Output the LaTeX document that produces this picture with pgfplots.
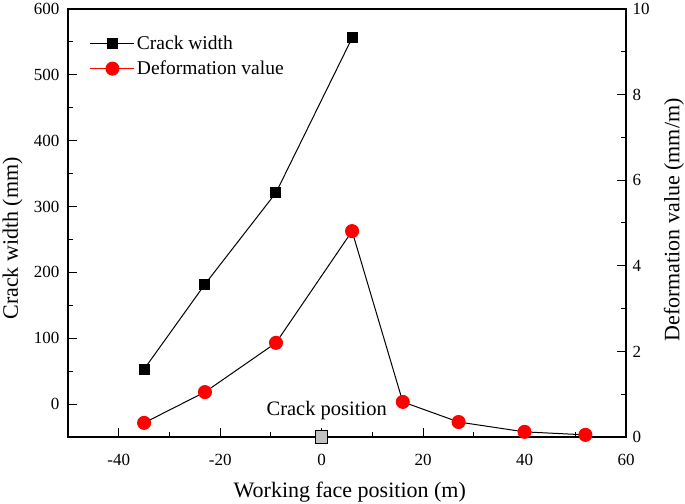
\documentclass[border=0pt]{standalone}
\usepackage{fontspec}
\setmainfont{Liberation Serif}
\usepackage{pgfplots}
\pgfplotsset{compat=1.18}
\definecolor{mkgray}{RGB}{192,192,192}
\begin{document}
\begin{tikzpicture}
\path[use as bounding box] (-68bp,-67bp) rectangle (617bp,437bp);
\begin{axis}[
  at={(0bp,0bp)}, anchor=south west,
  scale only axis, width=558bp, height=428bp,
  xmin=-50, xmax=60, ymin=-50, ymax=600,
  xtick={-40,-20,...,60}, ytick={0,100,...,600},
  minor x tick num=1, minor y tick num=1,
  tick align=inside, xtick pos=bottom, ytick pos=left,
  major tick length=9bp, minor tick length=5bp,
  axis line style={line width=1.3bp},
  every tick/.style={line width=1bp, black},
  clip=false,
  /pgf/number format/assume math mode=true,
  tick label style={font=\fontsize{17bp}{20bp}\selectfont},
  yticklabel style={xshift=-5bp},
  xticklabel style={yshift=-14bp},
  every axis x label/.style={at={(axis description cs:0.505,-0.1425)}, anchor=base, font=\fontsize{22bp}{26bp}\selectfont},
  every axis y label/.style={at={(axis description cs:-0.0995,0.464)}, rotate=90, anchor=center, font=\fontsize{22bp}{26bp}\selectfont},
  xlabel={Working face position (m)},
  ylabel={Crack width (mm)},
  legend style={at={(axis description cs:0.039,0.942)}, anchor=north west, draw=none, fill=none,
    font=\fontsize{19.5bp}{22bp}\selectfont, row sep=6bp, cells={anchor=west}, inner sep=0pt},
  legend image code/.code={\draw[mark repeat=2,mark phase=2,#1] plot coordinates {(0bp,0bp) (22bp,0bp) (44bp,0bp)};},
]
\addplot[black, line width=1bp, mark=square*, mark size=5bp, mark options={black, fill=black}]
  coordinates {(-35,53) (-23,182) (-9,321) (6,556)};
\addlegendentry{Crack width}
\addlegendimage{red, line width=1bp, mark=*, mark size=6.5bp, mark options={red, fill=red}}
\addlegendentry{Deformation value}
\node[anchor=base, font=\fontsize{20.5bp}{24bp}\selectfont] at (axis cs:1,-17) {Crack position};
\end{axis}
\begin{axis}[
  at={(0bp,0bp)}, anchor=south west,
  scale only axis, width=558bp, height=428bp,
  xmin=-50, xmax=60, ymin=0, ymax=10,
  axis x line=none, axis y line*=right,
  ytick={0,2,...,10}, minor y tick num=1,
  tick align=inside,
  major tick length=9bp, minor tick length=5bp,
  axis line style={line width=1.3bp, -},
  every tick/.style={line width=1bp, black},
  clip=false,
  /pgf/number format/assume math mode=true,
  tick label style={font=\fontsize{17bp}{20bp}\selectfont},
  yticklabel style={xshift=3bp},
  every axis y label/.style={at={(axis description cs:1.086,0.507)}, rotate=90, anchor=center, font=\fontsize{22bp}{26bp}\selectfont},
  ylabel={Deformation value (mm/m)},
]
\addplot[black, line width=1bp, mark=*, mark size=6.5bp, mark options={red, fill=red}]
  coordinates {(-35,0.33) (-23,1.05) (-9,2.2) (6,4.81) (16,0.82) (27,0.35) (40,0.12) (52,0.05)};
\addplot[only marks, mark=square*, mark size=6bp, mark options={fill=mkgray, draw=black, line width=1bp}]
  coordinates {(0,0)};
\end{axis}
\end{tikzpicture}
\end{document}
